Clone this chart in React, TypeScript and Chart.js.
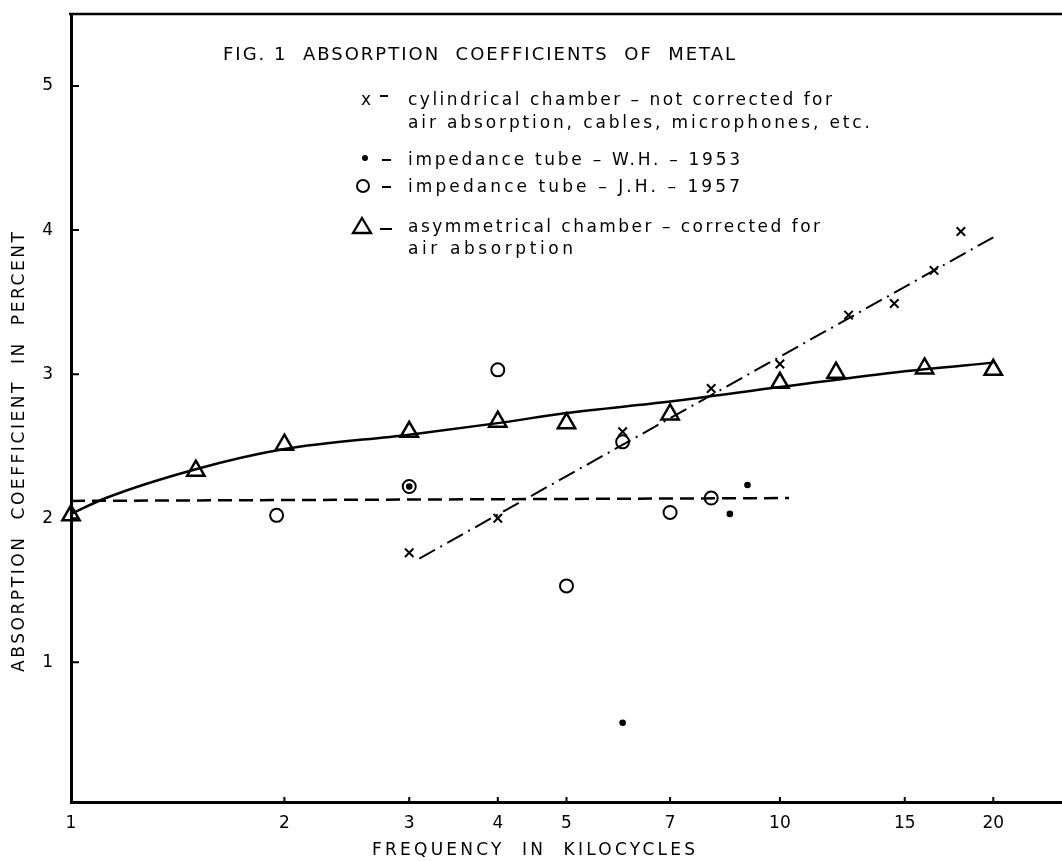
import React, { useEffect, useRef } from 'react';
import { Chart, registerables } from 'chart.js';

Chart.register(...registerables);

// ---------- data ----------
const xTicks = [1, 2, 3, 4, 5, 7, 10, 15, 20];
const yTicks = [1, 2, 3, 4, 5];

// asymmetrical chamber (triangles)
const triFreq = [1, 1.5, 2, 3, 4, 5, 7, 10, 12, 16, 20];
const triVal = [2.02, 2.33, 2.51, 2.6, 2.67, 2.66, 2.72, 2.94, 3.01, 3.04, 3.03];

// smooth curve through asymmetrical chamber data
const curveFreq = [1, 1.12, 1.5, 2, 3, 4, 5, 7, 10, 15, 20];
const curveVal = [2.03, 2.14, 2.34, 2.48, 2.58, 2.66, 2.73, 2.81, 2.91, 3.02, 3.08];

// cylindrical chamber (x)
const cylFreq = [3, 4, 6, 8, 10, 12.5, 14.5, 16.5, 18];
const cylVal = [1.76, 2.0, 2.6, 2.9, 3.07, 3.41, 3.49, 3.72, 3.99];

// dash-dot line for cylindrical chamber
const cylFitFreq = [3.1, 20];
const cylFitVal = [1.72, 3.95];

// impedance tube W.H. 1953 (filled dots)
const whFreq = [3, 6, 8.5, 9];
const whVal = [2.22, 0.58, 2.03, 2.23];

// impedance tube J.H. 1957 (open circles)
const jhFreq = [1.95, 3, 4, 5, 6, 7, 8];
const jhVal = [2.02, 2.22, 3.03, 1.53, 2.53, 2.04, 2.14];

// dashed mean line for impedance tube
const tubeFreq = [1, 10.3];
const tubeVal = [2.12, 2.14];

const figTitle = 'FIG. 1  ABSORPTION  COEFFICIENTS  OF  METAL';
const legendLines = [
  'cylindrical chamber \u2013 not corrected for',
  'air absorption, cables, microphones, etc.',
  'impedance tube \u2013 W.H. \u2013 1953',
  'impedance tube \u2013 J.H. \u2013 1957',
  'asymmetrical chamber \u2013 corrected for',
  'air absorption',
];
const xTitle = 'FREQUENCY  IN  KILOCYCLES';
const yTitle = 'ABSORPTION  COEFFICIENT  IN  PERCENT';

const FONT = '"DejaVu Sans", "Liberation Sans", sans-serif';

const pts = (xs: number[], ys: number[]) => xs.map((x, i) => ({ x, y: ys[i] }));

function fitText(ctx: CanvasRenderingContext2D, text: string, x: number, y: number, width: number) {
  (ctx as any).letterSpacing = '0px';
  const w = ctx.measureText(text).width;
  const n = Array.from(text).length;
  const ls = n > 1 ? (width - w) / (n - 1) : 0;
  (ctx as any).letterSpacing = ls + 'px';
  ctx.fillText(text, x, y);
  (ctx as any).letterSpacing = '0px';
}

const decorPlugin = {
  id: 'decor',
  afterDraw(chart: any) {
    const ctx: CanvasRenderingContext2D = chart.ctx;
    const { left, top, bottom } = chart.chartArea;
    const xs = chart.scales.x;
    const ys = chart.scales.y;
    ctx.save();
    ctx.strokeStyle = '#000';
    ctx.fillStyle = '#000';
    ctx.lineCap = 'butt';

    // top frame line
    ctx.lineWidth = 2.5;
    ctx.beginPath();
    ctx.moveTo(left - 2, top);
    ctx.lineTo(chart.width, top);
    ctx.stroke();

    // inner tick marks
    ctx.lineWidth = 2;
    ctx.beginPath();
    yTicks.forEach((v) => {
      const p = ys.getPixelForValue(v);
      ctx.moveTo(left, p);
      ctx.lineTo(left + 8, p);
    });
    xTicks.forEach((v) => {
      const p = xs.getPixelForValue(v);
      ctx.moveTo(p, bottom);
      ctx.lineTo(p, bottom - 5);
    });
    ctx.stroke();

    // title
    ctx.textBaseline = 'alphabetic';
    ctx.textAlign = 'left';
    ctx.font = `18px ${FONT}`;
    fitText(ctx, figTitle, 223, 60, 512);

    // legend text
    ctx.font = `17px ${FONT}`;
    const lx = 408;
    fitText(ctx, legendLines[0], lx, 105, 424);
    fitText(ctx, legendLines[1], lx, 128, 462);
    fitText(ctx, legendLines[2], lx, 165, 332);
    fitText(ctx, legendLines[3], lx, 192, 332);
    fitText(ctx, legendLines[4], lx, 232, 412);
    fitText(ctx, legendLines[5], lx, 254, 165);

    // legend symbols
    ctx.textAlign = 'center';
    ctx.fillText('x', 366, 105);
    ctx.beginPath();
    ctx.arc(365, 158, 3, 0, Math.PI * 2);
    ctx.fill();
    ctx.lineWidth = 2;
    ctx.beginPath();
    ctx.arc(363, 186, 6, 0, Math.PI * 2);
    ctx.stroke();
    ctx.lineWidth = 2.3;
    ctx.beginPath();
    ctx.moveTo(362, 218);
    ctx.lineTo(371, 233);
    ctx.lineTo(353, 233);
    ctx.closePath();
    ctx.stroke();
    // legend dashes
    ctx.lineWidth = 1.8;
    ctx.beginPath();
    ctx.moveTo(380, 96); ctx.lineTo(388, 96);
    ctx.moveTo(382, 160); ctx.lineTo(391, 160);
    ctx.moveTo(382, 187); ctx.lineTo(391, 187);
    ctx.moveTo(380, 229); ctx.lineTo(392, 229);
    ctx.stroke();

    // axis titles
    ctx.textAlign = 'left';
    ctx.textBaseline = 'middle';
    ctx.font = `17px ${FONT}`;
    fitText(ctx, xTitle, 372, 851, 323);
    ctx.save();
    ctx.translate(20, 452);
    ctx.rotate(-Math.PI / 2);
    fitText(ctx, yTitle, -220, 0, 440);
    ctx.restore();

    ctx.restore();
  },
};

export default function App() {
  const ref = useRef<HTMLCanvasElement | null>(null);

  useEffect(() => {
    document.body.style.margin = '0';
    const canvas = ref.current;
    if (!canvas) return;
    Chart.defaults.color = '#000';
    Chart.defaults.font.family = FONT;

    const chart = new Chart(canvas, {
      type: 'scatter',
      data: {
        datasets: [
          {
            label: 'asymmetrical chamber',
            data: pts(triFreq, triVal),
            pointStyle: 'triangle',
            pointRadius: 10,
            pointBorderWidth: 2.5,
            borderColor: '#000',
            backgroundColor: 'rgba(0,0,0,0)',
            clip: false,
          },
          {
            label: 'impedance tube J.H. 1957',
            data: pts(jhFreq, jhVal),
            pointStyle: 'circle',
            pointRadius: 6.5,
            pointBorderWidth: 2,
            borderColor: '#000',
            backgroundColor: 'rgba(0,0,0,0)',
          },
          {
            label: 'impedance tube W.H. 1953',
            data: pts(whFreq, whVal),
            pointStyle: 'circle',
            pointRadius: 3.3,
            pointBorderWidth: 0,
            borderColor: '#000',
            backgroundColor: '#000',
          },
          {
            label: 'cylindrical chamber',
            data: pts(cylFreq, cylVal),
            pointStyle: 'crossRot',
            pointRadius: 6,
            pointBorderWidth: 2,
            borderColor: '#000',
            backgroundColor: '#000',
          },
          {
            label: 'curve',
            data: pts(curveFreq, curveVal),
            showLine: true,
            pointRadius: 0,
            borderWidth: 2.5,
            borderColor: '#000',
            cubicInterpolationMode: 'monotone',
            clip: false,
          },
          {
            label: 'tube mean',
            data: pts(tubeFreq, tubeVal),
            showLine: true,
            pointRadius: 0,
            borderWidth: 2.5,
            borderDash: [14, 7],
            borderColor: '#000',
          },
          {
            label: 'cylindrical fit',
            data: pts(cylFitFreq, cylFitVal),
            showLine: true,
            pointRadius: 0,
            borderWidth: 2,
            borderDash: [18, 6, 2, 6],
            borderColor: '#000',
          },
        ],
      } as any,
      options: {
        animation: false,
        responsive: false,
        devicePixelRatio: 1,
        layout: { autoPadding: false, padding: { top: 14, right: 0, left: 0, bottom: 0 } },
        plugins: {
          legend: { display: false },
          title: { display: false },
          tooltip: { enabled: false },
        },
        scales: {
          x: {
            type: 'logarithmic',
            min: 1,
            max: 25,
            grid: { display: false },
            border: { display: true, color: '#000', width: 3 },
            afterBuildTicks: (scale: any) => {
              scale.ticks = xTicks.map((v) => ({ value: v }));
            },
            afterFit: (scale: any) => {
              scale.height = 59;
              scale.paddingLeft = 0;
              scale.paddingRight = 0;
              scale.paddingTop = 0;
              scale.paddingBottom = 0;
            },
            ticks: {
              autoSkip: false,
              maxRotation: 0,
              padding: 3,
              color: '#000',
              font: { size: 17, family: FONT },
              callback: (v: any) => String(v),
            },
          },
          y: {
            type: 'linear',
            min: 0.03,
            max: 5.5,
            grid: { display: false },
            border: { display: true, color: '#000', width: 3 },
            afterBuildTicks: (scale: any) => {
              scale.ticks = yTicks.map((v) => ({ value: v }));
            },
            afterFit: (scale: any) => {
              scale.width = 71;
              scale.paddingLeft = 0;
              scale.paddingRight = 0;
              scale.paddingTop = 0;
              scale.paddingBottom = 0;
            },
            ticks: {
              padding: 10,
              color: '#000',
              font: { size: 17, family: FONT },
              callback: (v: any) => String(v),
            },
          },
        },
      } as any,
      plugins: [decorPlugin],
    });

    return () => chart.destroy();
  }, []);

  return (
    <div style={{ width: 1062, height: 861, background: '#fff' }}>
      <canvas ref={ref} width={1062} height={861} style={{ display: 'block' }} />
    </div>
  );
}
